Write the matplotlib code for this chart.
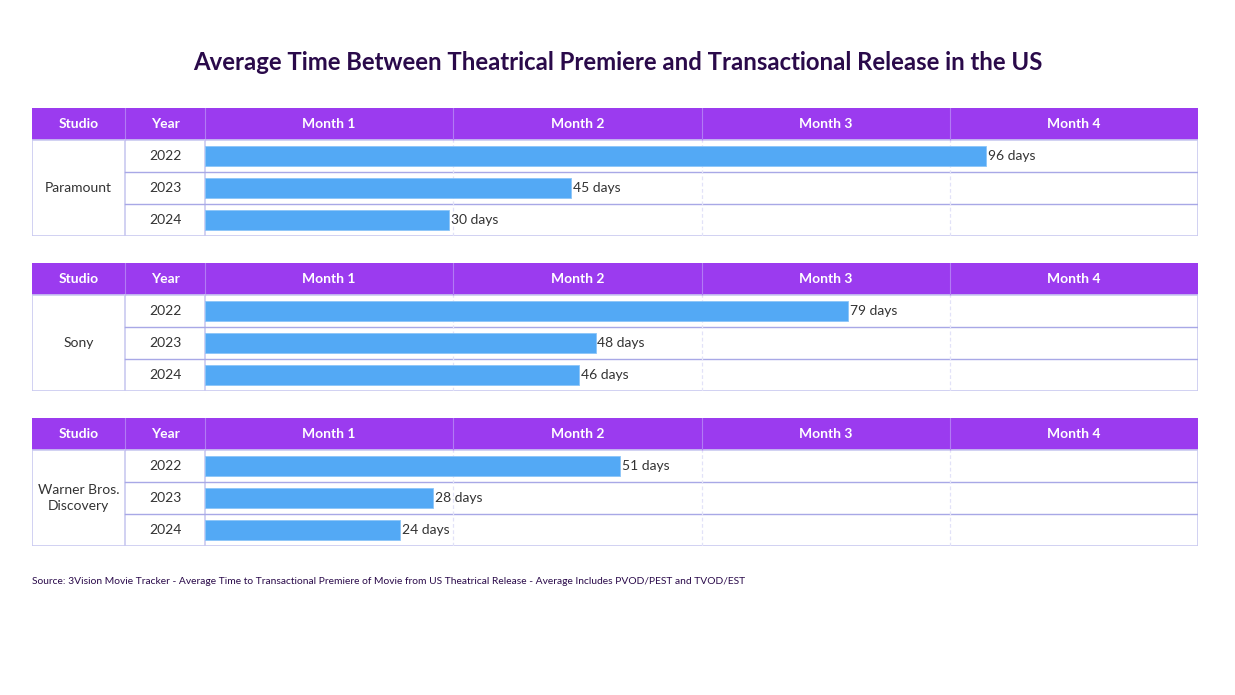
#!/usr/bin/env python3
"""
Average time between theatrical premiere and transactional release (US),
drawn as three small table-style blocks with horizontal bars.
"""
import matplotlib
matplotlib.use("Agg")
import matplotlib.pyplot as plt
from matplotlib.patches import Rectangle

STUDIOS = ["Paramount", "Sony", "Warner Bros.\nDiscovery"]
YEARS = ["2022", "2023", "2024"]
PARAMOUNT_DAYS = [96, 45, 30]
SONY_DAYS = [79, 48, 46]
WBD_DAYS = [51, 28, 24]
MONTHS = ["Month 1", "Month 2", "Month 3", "Month 4"]
DAYS_PER_MONTH = 30.5

TITLE = "Average Time Between Theatrical Premiere and Transactional Release in the US"
SOURCE = ("Source: 3Vision Movie Tracker - Average Time to Transactional Premiere of Movie "
          "from US Theatrical Release - Average Includes PVOD/PEST and TVOD/EST")

W, H = 1235, 695
PURPLE = "#9B3BEF"
PURPLE_LINE = "#B27AF4"
BLUE = "#53A9F5"
BORDER = "#C9C9F0"
ROW_LINE = "#A8A8E6"
DASH = "#E2E2F8"
TEXT = "#333333"
DARK = "#2A0A4A"
FONT = "Lato"

plt.rcParams["font.family"] = [FONT, "DejaVu Sans"]

# table layout in figure pixels
LEFT, STUDIO_R, YEAR_R, RIGHT = 32, 125, 205, 1198
HEAD_H, ROW_H = 32, 32
BLOCK_TOPS = [108, 263, 418]


def fig_rect(x0, y0, x1, y1):
    return [x0 / W, 1 - y1 / H, (x1 - x0) / W, (y1 - y0) / H]


def main():
    fig = plt.figure(figsize=(W / 100, H / 100), dpi=100)
    fig.patch.set_facecolor("white")

    fig.text(618 / W, 1 - 63 / H, TITLE, ha="center", va="center",
             fontsize=17.2, fontweight="bold", color=DARK)

    month_w = (RIGHT - YEAR_R) / len(MONTHS)
    all_days = [PARAMOUNT_DAYS, SONY_DAYS, WBD_DAYS]

    for top, studio, days in zip(BLOCK_TOPS, STUDIOS, all_days):
        bottom = top + HEAD_H + ROW_H * len(YEARS)
        tab = fig.add_axes(fig_rect(LEFT, top, RIGHT, bottom))
        tab.set_xlim(LEFT, RIGHT)
        tab.set_ylim(bottom, top)
        tab.axis("off")

        # header
        tab.add_patch(Rectangle((LEFT, top), RIGHT - LEFT, HEAD_H,
                                facecolor=PURPLE, edgecolor="none"))
        seps = [STUDIO_R, YEAR_R] + [YEAR_R + month_w * k for k in range(1, len(MONTHS))]
        for x in seps:
            tab.plot([x, x], [top, top + HEAD_H], color=PURPLE_LINE, lw=0.8)
        hy = top + HEAD_H / 2
        tab.text((LEFT + STUDIO_R) / 2, hy, "Studio", ha="center", va="center",
                 color="white", fontsize=10, fontweight="bold")
        tab.text((STUDIO_R + YEAR_R) / 2, hy, "Year", ha="center", va="center",
                 color="white", fontsize=10, fontweight="bold")
        for k, m in enumerate(MONTHS):
            tab.text(YEAR_R + month_w * (k + 0.5), hy, m, ha="center", va="center",
                     color="white", fontsize=10, fontweight="bold")

        # body grid
        body_top = top + HEAD_H
        tab.add_patch(Rectangle((LEFT, body_top), RIGHT - LEFT, bottom - body_top,
                                facecolor="none", edgecolor=BORDER, lw=1.2))
        for x in (STUDIO_R, YEAR_R):
            tab.plot([x, x], [body_top, bottom], color=BORDER, lw=1.2)
        for r in range(1, len(YEARS)):
            y = body_top + ROW_H * r
            tab.plot([STUDIO_R, RIGHT], [y, y], color=ROW_LINE, lw=1.0)

        tab.text((LEFT + STUDIO_R) / 2, (body_top + bottom) / 2, studio,
                 ha="center", va="center", color=TEXT, fontsize=10, linespacing=1.4)
        for r, yr in enumerate(YEARS):
            tab.text((STUDIO_R + YEAR_R) / 2, body_top + ROW_H * (r + 0.5), yr,
                     ha="center", va="center", color=TEXT, fontsize=10)

        # bars
        ax = fig.add_axes(fig_rect(YEAR_R, body_top, RIGHT, bottom))
        ax.set_xlim(0, DAYS_PER_MONTH * len(MONTHS))
        ax.set_ylim(len(YEARS) - 0.5, -0.5)
        ax.axis("off")
        for k in range(1, len(MONTHS)):
            ax.axvline(DAYS_PER_MONTH * k, color=DASH, lw=0.9, ls=(0, (3, 2)), zorder=0)
        ypos = list(range(len(YEARS)))
        ax.barh(ypos, days, height=0.6, color=BLUE, edgecolor="#8CC5F8",
                linewidth=0.6, zorder=2)
        for y, d in zip(ypos, days):
            ax.text(d + 0.2, y, f"{d} days", ha="left", va="center", color=TEXT,
                    fontsize=10, zorder=3)

    fig.text(LEFT / W, 1 - 581 / H, SOURCE, ha="left", va="center",
             fontsize=7.4, color=DARK)

    fig.savefig("out.png", dpi=100)


if __name__ == "__main__":
    main()
